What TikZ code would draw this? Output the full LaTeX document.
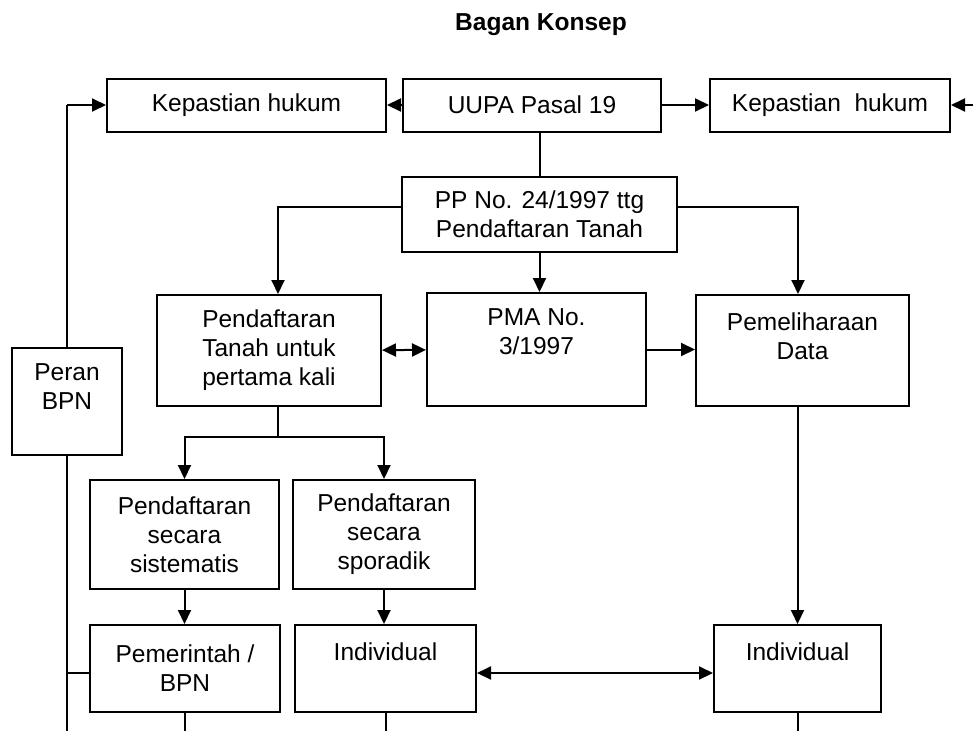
\documentclass[tikz,border=0pt]{standalone}
\usepackage{fontspec}
\setmainfont{Liberation Sans}
\usetikzlibrary{arrows.meta, positioning}

\tikzset{
  kotak/.style = {draw, rectangle, line width=2pt, inner sep=0pt, align=center},
  panah/.style = {-{Triangle[length=14pt, width=13pt]}},
  duapanah/.style = {{Triangle[length=14pt, width=13pt]}-{Triangle[length=14pt, width=13pt]}},
}

\begin{document}
\begin{tikzpicture} [x=1pt, y=-1pt, line width=2pt, font=\fontsize{24.5}{29}\selectfont]

\useasboundingbox (0,0) rectangle (973,731);

\node (judul) at (541,25) {\bfseries Bagan Konsep};

\node (kep1) [kotak, minimum width=279pt, minimum height=53pt] at (246.5,105) {Kepastian hukum};
\node (uupa) [kotak, minimum width=258pt, minimum height=53pt] at (532,105) {UUPA Pasal 19};
\node (kep2) [kotak, minimum width=240pt, minimum height=53pt] at (830,105) {Kepastian\ \ hukum};
\node (pp) [kotak, minimum width=275pt, minimum height=75pt] at (539.5,214.5) {PP No. 24/1997 ttg\\Pendaftaran Tanah};
\node (tanah) [kotak, minimum width=224pt, minimum height=111pt] at (269,350.5) {Pendaftaran\\Tanah untuk\\pertama kali};
\node (pma) [kotak, minimum width=219pt, minimum height=113pt,
  label={[anchor=north, yshift=-16pt, align=center, inner sep=0pt]north:PMA No.\\3/1997}] at (536.5,349.5) {};
\node (pelihara) [kotak, minimum width=213pt, minimum height=111pt,
  label={[anchor=north, yshift=-18pt, align=center, inner sep=0pt]north:Pemeliharaan\\Data}] at (802.5,350.5) {};
\node (peran) [kotak, minimum width=110pt, minimum height=107pt,
  label={[anchor=north, yshift=-16pt, align=center, inner sep=0pt]north:Peran\\BPN}] at (67,401.5) {};
\node (sistem) [kotak, minimum width=189pt, minimum height=109pt] at (184.5,534.5) {Pendaftaran\\secara\\sistematis};
\node (sporadik) [kotak, minimum width=182pt, minimum height=109pt] at (384,534.5) {Pendaftaran\\secara\\sporadik};
\node (pemerintah) [kotak, minimum width=190pt, minimum height=87pt] at (185,668.5) {Pemerintah /\\BPN};
\node (indiv1) [kotak, minimum width=181pt, minimum height=87pt,
  label={[anchor=north, yshift=-18pt, inner sep=0pt]north:Individual}] at (385.5,668.5) {};
\node (indiv2) [kotak, minimum width=167pt, minimum height=87pt,
  label={[anchor=north, yshift=-18pt, inner sep=0pt]north:Individual}] at (797.5,668.5) {};

\coordinate (kanan) at (973,105);
\coordinate (kiri) at (67,105);
\coordinate (cabang) at (67,673);
\coordinate (simpang) at (278,437);
\coordinate (bawah) at (0,731);

\path [panah]
	(uupa) edge (kep1)
	(uupa) edge (kep2)
	(kanan) edge (kep2)
	(kiri) edge (kep1)
	(pma.east) edge (pma.east -| pelihara.west)
	(pp.south) edge (pp.south |- pma.north)
	(sistem.south) edge (sistem.south |- pemerintah.north)
	(sporadik.south) edge (sporadik.south |- indiv1.north)
	(pelihara.south -| indiv2) edge (indiv2.north);

\draw [panah] ([yshift=7.5pt]pp.west) -| ([xshift=9pt]tanah.north);
\draw [panah] ([yshift=7.5pt]pp.east) -| ([xshift=-4.5pt]pelihara.north);
\draw [panah] (simpang) -| (sistem.north);
\draw [panah] (simpang) -| (sporadik.north);

\path [duapanah]
	(tanah) edge (pma)
	([yshift=-4.5pt]indiv1.east) edge ([yshift=-4.5pt]indiv2.west);

\draw (uupa.south -| pp.north) -- (pp.north);
\draw (kiri) -- (peran.north);
\draw (peran.south) -- (peran.south |- bawah);
\draw (cabang) -- (cabang -| pemerintah.west);
\draw ([xshift=9pt]tanah.south) -- (simpang);
\draw (pemerintah.south) -- (pemerintah.south |- bawah);
\draw (indiv1.south) -- (indiv1.south |- bawah);
\draw (indiv2.south) -- (indiv2.south |- bawah);
\end{tikzpicture}
\end{document}
